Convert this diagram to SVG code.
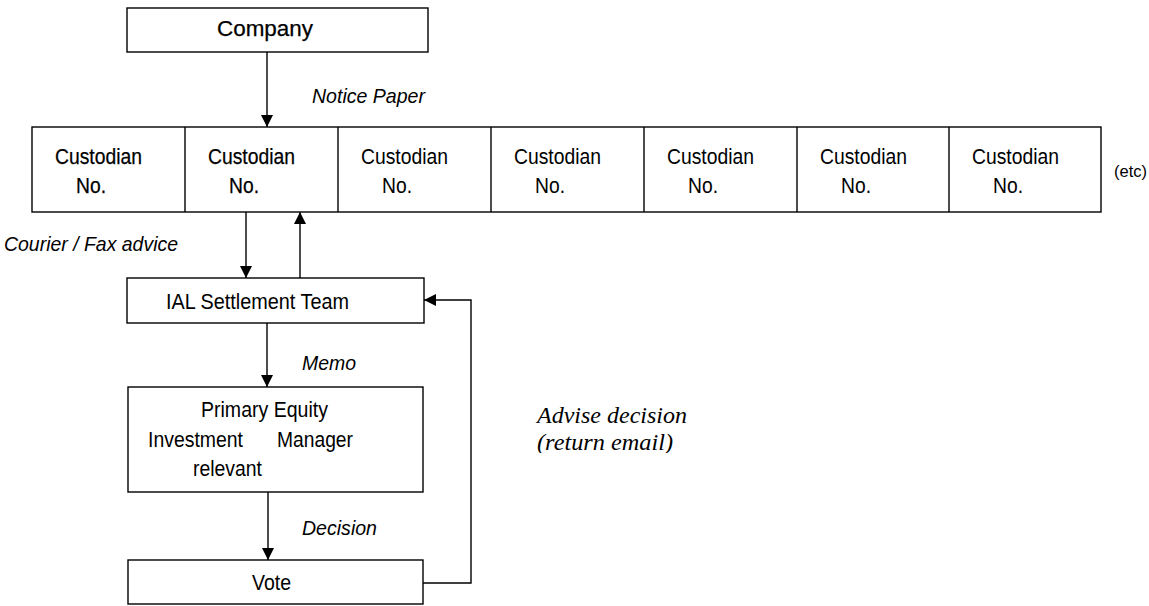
<svg xmlns="http://www.w3.org/2000/svg" width="1149" height="606" viewBox="0 0 1149 606">
<style>
.box{fill:#fff;stroke:#000;stroke-width:1.4}
.t{font-family:"Liberation Sans",Arial,sans-serif;font-size:22px;fill:#000}
.b{stroke:#000;stroke-width:0.25}
.i{font-family:"Liberation Sans",Arial,sans-serif;font-size:21px;font-style:italic;fill:#000}
.s{font-family:"Liberation Serif","Times New Roman",serif;font-size:23px;font-style:italic;fill:#000}
.ln{fill:none;stroke:#000;stroke-width:1.4}
</style>
<defs>
<marker id="ah" markerWidth="12" markerHeight="12" viewBox="0 0 12 12" refX="12" refY="6" orient="auto" markerUnits="userSpaceOnUse">
<path d="M0,0 L12,6 L0,12 Z" fill="#000"/>
</marker>
<clipPath id="cl"><rect x="520" y="395" width="200" height="58"/></clipPath>
</defs>
<g id="company">
<rect class="box" x="127" y="8" width="301" height="44"/>
<text class="t b" x="217" y="36" textLength="96" lengthAdjust="spacingAndGlyphs">Company</text>
</g>
<g id="custodians">
<rect class="box" x="32" y="127" width="1069" height="85"/>
<g id="cust1"><text class="t b" x="55" y="164" textLength="87" lengthAdjust="spacingAndGlyphs">Custodian</text><text class="t b" x="76" y="193" textLength="30" lengthAdjust="spacingAndGlyphs">No.</text></g>
<g id="cust2"><line class="ln" x1="185" y1="127" x2="185" y2="212"/><text class="t b" x="208" y="164" textLength="87" lengthAdjust="spacingAndGlyphs">Custodian</text><text class="t b" x="229" y="193" textLength="30" lengthAdjust="spacingAndGlyphs">No.</text></g>
<g id="cust3"><line class="ln" x1="338" y1="127" x2="338" y2="212"/><text class="t" x="361" y="164" textLength="87" lengthAdjust="spacingAndGlyphs">Custodian</text><text class="t" x="382" y="193" textLength="30" lengthAdjust="spacingAndGlyphs">No.</text></g>
<g id="cust4"><line class="ln" x1="491" y1="127" x2="491" y2="212"/><text class="t" x="514" y="164" textLength="87" lengthAdjust="spacingAndGlyphs">Custodian</text><text class="t" x="535" y="193" textLength="30" lengthAdjust="spacingAndGlyphs">No.</text></g>
<g id="cust5"><line class="ln" x1="644" y1="127" x2="644" y2="212"/><text class="t" x="667" y="164" textLength="87" lengthAdjust="spacingAndGlyphs">Custodian</text><text class="t" x="688" y="193" textLength="30" lengthAdjust="spacingAndGlyphs">No.</text></g>
<g id="cust6"><line class="ln" x1="797" y1="127" x2="797" y2="212"/><text class="t" x="820" y="164" textLength="87" lengthAdjust="spacingAndGlyphs">Custodian</text><text class="t" x="841" y="193" textLength="30" lengthAdjust="spacingAndGlyphs">No.</text></g>
<g id="cust7"><line class="ln" x1="949" y1="127" x2="949" y2="212"/><text class="t" x="972" y="164" textLength="87" lengthAdjust="spacingAndGlyphs">Custodian</text><text class="t" x="993" y="193" textLength="30" lengthAdjust="spacingAndGlyphs">No.</text></g>
</g>
<text id="etc" x="1114" y="177" font-family="Liberation Sans, Arial, sans-serif" font-size="17" fill="#000" textLength="33" lengthAdjust="spacingAndGlyphs">(etc)</text>
<g id="ial">
<rect class="box" x="127" y="278" width="297" height="45"/>
<text class="t" x="166" y="309" textLength="183" lengthAdjust="spacingAndGlyphs">IAL Settlement Team</text>
</g>
<g id="pem">
<rect class="box" x="128" y="387" width="295" height="105"/>
<text class="t" x="201" y="417" textLength="127" lengthAdjust="spacingAndGlyphs">Primary Equity</text>
<text class="t" x="148" y="447" textLength="95" lengthAdjust="spacingAndGlyphs">Investment</text>
<text class="t" x="277" y="447" textLength="76" lengthAdjust="spacingAndGlyphs">Manager</text>
<text class="t" x="193" y="476" textLength="69" lengthAdjust="spacingAndGlyphs">relevant</text>
</g>
<g id="vote">
<rect class="box" x="128" y="560" width="295" height="44"/>
<text class="t" x="252" y="590" textLength="39" lengthAdjust="spacingAndGlyphs">Vote</text>
</g>
<g id="connectors">
<line class="ln" x1="267" y1="52" x2="267" y2="127" marker-end="url(#ah)"/>
<line class="ln" x1="246" y1="212" x2="246" y2="278" marker-end="url(#ah)"/>
<line class="ln" x1="300" y1="278" x2="300" y2="212" marker-end="url(#ah)"/>
<line class="ln" x1="267" y1="323" x2="267" y2="387" marker-end="url(#ah)"/>
<line class="ln" x1="268" y1="492" x2="268" y2="560" marker-end="url(#ah)"/>
<path class="ln" d="M423,583 H471 V300 H424" marker-end="url(#ah)"/>
</g>
<g id="labels">
<text class="i" x="312" y="103" textLength="113" lengthAdjust="spacingAndGlyphs">Notice Paper</text>
<text class="i" x="4" y="251" textLength="174" lengthAdjust="spacingAndGlyphs">Courier / Fax advice</text>
<text class="i" x="302" y="370" textLength="54" lengthAdjust="spacingAndGlyphs">Memo</text>
<text class="i" x="302" y="535" textLength="75" lengthAdjust="spacingAndGlyphs">Decision</text>
<g clip-path="url(#cl)">
<text class="s" x="537" y="423" textLength="150" lengthAdjust="spacingAndGlyphs">Advise decision</text>
<text class="s" x="537" y="450" textLength="136" lengthAdjust="spacingAndGlyphs">(return email)</text>
</g>
</g>
</svg>
